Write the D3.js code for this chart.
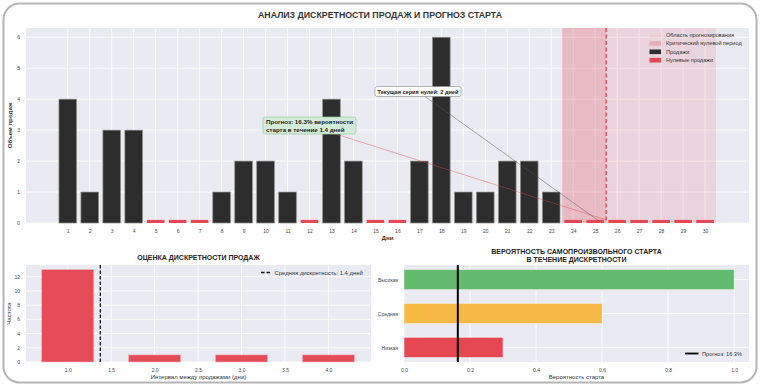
<!DOCTYPE html>
<html>
<head>
<meta charset="utf-8">
<script src="https://cdn.jsdelivr.net/npm/d3@7"></script>
<style>
  body { margin: 0; background: #fff; }
  svg { font-family: "Liberation Sans", Arial, sans-serif; }
  .tick text { fill: #444; }
</style>
</head>
<body>
<script>
// Sales discreteness dashboard
(function() {
  var W = 760, H = 386;

  // ---- data ----
  var days  = [1,2,3,4,5,6,7,8,9,10,11,12,13,14,15,16,17,18,19,20,21,22,23,24,25,26,27,28,29,30];
  var sales = [4,1,3,3,0,0,0,1,2,2,1,0,4,2,0,0,2,6,1,1,2,2,1,0,0,0,0,0,0,0];
  var yTicksMain = [0,1,2,3,4,5,6];
  var forecastStart = 23.5, forecastEnd = 30.5, criticalEnd = 25.5;
  var zeroStreak = 2;

  var intervals = [1, 2, 3, 4];
  var intervalFreq = [13, 1, 1, 1];
  var meanInterval = 1.375;
  var xTicksHist = [1.0, 1.5, 2.0, 2.5, 3.0, 3.5, 4.0];
  var yTicksHist = [0, 2, 4, 6, 8, 10, 12];

  var levels = ["Низкая", "Средняя", "Высокая"];
  var levelProb = [0.3, 0.6, 1.0];
  var levelColors = ["#e54753", "#f7b945", "#63bb6f"];
  var forecastProb = 0.163;
  var xTicksProb = [0, 0.2, 0.4, 0.6, 0.8, 1.0];

  var RED = "#e54753", DARK = "#2d2d2d", BG = "#eaeaf2";

  var svg = d3.select("body").append("svg").attr("width", W).attr("height", H);

  svg.append("rect")
     .attr("x", 3.5).attr("y", 3.5)
     .attr("width", W - 7).attr("height", H - 7)
     .attr("rx", 16)
     .attr("fill", "#fff")
     .attr("stroke", "#b5b5b5")
     .attr("stroke-width", 2);

  svg.append("text")
     .attr("x", 380).attr("y", 17.5)
     .attr("text-anchor", "middle")
     .attr("font-size", 9.6).attr("font-weight", "bold")
     .attr("textLength", 244).attr("lengthAdjust", "spacingAndGlyphs")
     .attr("fill", "#333")
     .text("АНАЛИЗ ДИСКРЕТНОСТИ ПРОДАЖ И ПРОГНОЗ СТАРТА");

  function panel(x0, x1, y0, y1) {
    svg.append("rect").attr("x", x0).attr("y", y0)
       .attr("width", x1 - x0).attr("height", y1 - y0).attr("fill", BG);
    return svg.append("g");
  }

  function styleAxis(g, size) {
    g.select(".domain").remove();
    g.selectAll("line").remove();
    g.selectAll("text").attr("font-size", size).attr("fill", "#444");
  }

  // ================= main chart =================
  var m = { l: 26, r: 749, t: 28, b: 223 };
  var x = d3.scaleLinear().domain([-0.9, 32]).range([m.l, m.r]);
  var y = d3.scaleLinear().domain([0, 6.3]).range([m.b, m.t]);
  var g = panel(m.l, m.r, m.t, m.b);

  g.selectAll(".vg").data(days).enter().append("line")
   .attr("x1", function(d) { return x(d); }).attr("x2", function(d) { return x(d); })
   .attr("y1", m.t).attr("y2", m.b).attr("stroke", "#fff").attr("stroke-width", 0.8);
  g.selectAll(".hg").data(yTicksMain).enter().append("line")
   .attr("x1", m.l).attr("x2", m.r)
   .attr("y1", function(d) { return y(d); }).attr("y2", function(d) { return y(d); })
   .attr("stroke", "#fff").attr("stroke-width", 0.8);

  // forecast zones
  g.append("rect").attr("x", x(forecastStart)).attr("y", m.t)
   .attr("width", x(forecastEnd) - x(forecastStart)).attr("height", m.b - m.t)
   .attr("fill", RED).attr("opacity", 0.13);
  g.append("rect").attr("x", x(forecastStart)).attr("y", m.t)
   .attr("width", x(criticalEnd) - x(forecastStart)).attr("height", m.b - m.t)
   .attr("fill", RED).attr("opacity", 0.18);

  var bw = x(0.8) - x(0);
  g.selectAll(".bar").data(days).enter().append("rect")
   .attr("x", function(d) { return x(d) - bw / 2; })
   .attr("width", bw)
   .attr("y", function(d, i) { return y(sales[i] > 0 ? sales[i] : 0.1); })
   .attr("height", function(d, i) { return y(0) - y(sales[i] > 0 ? sales[i] : 0.1); })
   .attr("fill", function(d, i) { return sales[i] > 0 ? DARK : RED; })
   .attr("stroke", function(d, i) { return sales[i] > 0 ? "#8a8a8a" : "none"; })
   .attr("stroke-width", 0.7);

  g.append("line").attr("x1", x(criticalEnd)).attr("x2", x(criticalEnd))
   .attr("y1", m.t).attr("y2", m.b)
   .attr("stroke", RED).attr("stroke-width", 1.4).attr("stroke-dasharray", "4,2.5");

  // annotations
  var a1 = [418, 91.5], a2 = [309, 125.5];
  g.append("line").attr("x1", a1[0]).attr("y1", a1[1])
   .attr("x2", x(25.2)).attr("y2", y(0.05))
   .attr("stroke", "#555").attr("stroke-width", 0.6).attr("opacity", 0.8);
  g.append("line").attr("x1", a2[0]).attr("y1", a2[1])
   .attr("x2", x(25.5)).attr("y2", y(0.1))
   .attr("stroke", RED).attr("stroke-width", 0.6).attr("opacity", 0.7);

  g.append("rect").attr("x", 375).attr("y", 86.5).attr("width", 86).attr("height", 10)
   .attr("rx", 2).attr("fill", "#fff").attr("stroke", "#888").attr("stroke-width", 0.6);
  g.append("text").attr("x", a1[0]).attr("y", 93.6).attr("text-anchor", "middle")
   .attr("font-size", 5.6).attr("font-weight", "bold").attr("fill", "#222")
   .text("Текущая серия нулей: " + zeroStreak + " дней");

  g.append("rect").attr("x", 263).attr("y", 117).attr("width", 93).attr("height", 17)
   .attr("rx", 2).attr("fill", "#d3ecd9").attr("stroke", "#93cba0").attr("stroke-width", 0.7);
  g.append("text").attr("x", 266).attr("y", 124).attr("font-size", 6.2)
   .attr("font-weight", "bold").attr("fill", "#222")
   .text("Прогноз: " + (forecastProb * 100).toFixed(1) + "% вероятности");
  g.append("text").attr("x", 266).attr("y", 131.5).attr("font-size", 6.2)
   .attr("font-weight", "bold").attr("fill", "#222")
   .text("старта в течение " + meanInterval.toFixed(1) + " дней");

  // legend
  var legItems = [
    { label: "Область прогнозирования", fill: "#ebcdd5" },
    { label: "Критический нулевой период", fill: "#e8adb8" },
    { label: "Продажи", fill: DARK },
    { label: "Нулевые продажи", fill: RED }
  ];
  var lg = g.append("g");
  legItems.forEach(function(it, i) {
    var yy = 35 + i * 8.4;
    lg.append("rect").attr("x", 649.5).attr("y", yy - 2.3).attr("width", 11.5).attr("height", 4.6)
      .attr("fill", it.fill);
    lg.append("text").attr("x", 666).attr("y", yy + 1.9).attr("font-size", 5.6)
      .attr("fill", "#333").text(it.label);
  });

  var gx = svg.append("g").attr("transform", "translate(0," + (m.b + 3) + ")")
    .call(d3.axisBottom(x).tickValues(days).tickFormat(d3.format("d")).tickSize(0));
  styleAxis(gx, 5);
  var gy = svg.append("g").attr("transform", "translate(" + (m.l - 3) + ",0)")
    .call(d3.axisLeft(y).tickValues(yTicksMain).tickFormat(d3.format("d")).tickSize(0));
  styleAxis(gy, 5);

  svg.append("text").attr("x", (m.l + m.r) / 2).attr("y", 239.5).attr("text-anchor", "middle")
     .attr("font-size", 6.2).attr("font-weight", "bold").attr("fill", "#333").text("Дни");
  svg.append("text").attr("transform", "translate(12," + ((m.t + m.b) / 2) + ") rotate(-90)")
     .attr("text-anchor", "middle").attr("font-size", 6.2).attr("font-weight", "bold")
     .attr("fill", "#333").text("Объем продаж");

  // ================= histogram =================
  var h = { l: 26, r: 371, t: 265, b: 362 };
  var hx = d3.scaleLinear().domain([0.52, 4.49]).range([h.l, h.r]);
  var hy = d3.scaleLinear().domain([0, 13.65]).range([h.b, h.t]);
  var hg = panel(h.l, h.r, h.t, h.b);

  hg.selectAll(".vg").data(xTicksHist).enter().append("line")
    .attr("x1", function(d) { return hx(d); }).attr("x2", function(d) { return hx(d); })
    .attr("y1", h.t).attr("y2", h.b).attr("stroke", "#fff").attr("stroke-width", 0.8);
  hg.selectAll(".hg").data(yTicksHist).enter().append("line")
    .attr("x1", h.l).attr("x2", h.r)
    .attr("y1", function(d) { return hy(d); }).attr("y2", function(d) { return hy(d); })
    .attr("stroke", "#fff").attr("stroke-width", 0.8);

  var hbw = hx(0.6) - hx(0);
  hg.selectAll(".bar").data(intervals).enter().append("rect")
    .attr("x", function(d) { return hx(d) - hbw / 2; })
    .attr("width", hbw)
    .attr("y", function(d, i) { return hy(intervalFreq[i]); })
    .attr("height", function(d, i) { return hy(0) - hy(intervalFreq[i]); })
    .attr("fill", RED).attr("opacity", 0.97)
    .attr("stroke", "#f2b5ba").attr("stroke-width", 0.6);

  hg.append("line").attr("x1", hx(meanInterval)).attr("x2", hx(meanInterval))
    .attr("y1", h.t).attr("y2", h.b)
    .attr("stroke", "#111").attr("stroke-width", 1.3).attr("stroke-dasharray", "3.5,2");

  hg.append("line").attr("x1", 261).attr("x2", 271.5).attr("y1", 272.5).attr("y2", 272.5)
    .attr("stroke", "#111").attr("stroke-width", 1.3).attr("stroke-dasharray", "3.5,2");
  hg.append("text").attr("x", 274.5).attr("y", 274.5).attr("font-size", 5.9).attr("fill", "#333")
    .text("Средняя дискретность: " + meanInterval.toFixed(1) + " дней");

  var hxa = svg.append("g").attr("transform", "translate(0," + (h.b + 3) + ")")
    .call(d3.axisBottom(hx).tickValues(xTicksHist).tickFormat(d3.format(".1f")).tickSize(0));
  styleAxis(hxa, 5);
  var hya = svg.append("g").attr("transform", "translate(" + (h.l - 3) + ",0)")
    .call(d3.axisLeft(hy).tickValues(yTicksHist).tickSize(0));
  styleAxis(hya, 5);

  svg.append("text").attr("x", (h.l + h.r) / 2).attr("y", 259.5).attr("text-anchor", "middle")
     .attr("font-size", 7).attr("font-weight", "bold").attr("fill", "#222")
     .text("ОЦЕНКА ДИСКРЕТНОСТИ ПРОДАЖ");
  svg.append("text").attr("x", (h.l + h.r) / 2).attr("y", 379).attr("text-anchor", "middle")
     .attr("font-size", 6).attr("fill", "#333").text("Интервал между продажами (дни)");
  svg.append("text").attr("transform", "translate(11," + ((h.t + h.b) / 2) + ") rotate(-90)")
     .attr("text-anchor", "middle").attr("font-size", 6).attr("fill", "#333").text("Частота");

  // ================= probability =================
  var p = { l: 404, r: 749, t: 265, b: 362 };
  var px = d3.scaleLinear().domain([0, 1.045]).range([p.l, p.r]);
  var py = d3.scaleLinear().domain([-0.43, 2.43]).range([p.b, p.t]);
  var pg = panel(p.l, p.r, p.t, p.b);

  pg.selectAll(".vg").data(xTicksProb).enter().append("line")
    .attr("x1", function(d) { return px(d); }).attr("x2", function(d) { return px(d); })
    .attr("y1", p.t).attr("y2", p.b).attr("stroke", "#fff").attr("stroke-width", 0.8);
  pg.selectAll(".hg").data(levels).enter().append("line")
    .attr("x1", p.l).attr("x2", p.r)
    .attr("y1", function(d, i) { return py(i); }).attr("y2", function(d, i) { return py(i); })
    .attr("stroke", "#fff").attr("stroke-width", 0.8);

  var pbh = py(0) - py(0.6);
  pg.selectAll(".bar").data(levels).enter().append("rect")
    .attr("x", px(0))
    .attr("y", function(d, i) { return py(i) - pbh / 2; })
    .attr("height", pbh)
    .attr("width", function(d, i) { return px(levelProb[i]) - px(0); })
    .attr("fill", function(d, i) { return levelColors[i]; })
    .attr("stroke", "#f4f4f4").attr("stroke-width", 0.6);

  pg.append("line").attr("x1", px(forecastProb)).attr("x2", px(forecastProb))
    .attr("y1", p.t).attr("y2", p.b).attr("stroke", "#000").attr("stroke-width", 2);

  pg.append("line").attr("x1", 685).attr("x2", 698.5).attr("y1", 353.5).attr("y2", 353.5)
    .attr("stroke", "#000").attr("stroke-width", 1.8);
  pg.append("text").attr("x", 702).attr("y", 355.5).attr("font-size", 5.6).attr("fill", "#333")
    .text("Прогноз: " + (forecastProb * 100).toFixed(1) + "%");

  var pxa = svg.append("g").attr("transform", "translate(0," + (p.b + 3) + ")")
    .call(d3.axisBottom(px).tickValues(xTicksProb).tickFormat(d3.format(".1f")).tickSize(0));
  styleAxis(pxa, 5);
  var pya = svg.append("g").attr("transform", "translate(" + (p.l - 3) + ",0)")
    .call(d3.axisLeft(py).tickValues([0, 1, 2]).tickFormat(function(d) { return levels[d]; }).tickSize(0));
  styleAxis(pya, 5);

  svg.append("text").attr("x", (p.l + p.r) / 2).attr("y", 253.5).attr("text-anchor", "middle")
     .attr("font-size", 7).attr("font-weight", "bold").attr("fill", "#222")
     .text("ВЕРОЯТНОСТЬ САМОПРОИЗВОЛЬНОГО СТАРТА");
  svg.append("text").attr("x", (p.l + p.r) / 2).attr("y", 261.5).attr("text-anchor", "middle")
     .attr("font-size", 7).attr("font-weight", "bold").attr("fill", "#222")
     .text("В ТЕЧЕНИЕ ДИСКРЕТНОСТИ");
  svg.append("text").attr("x", (p.l + p.r) / 2).attr("y", 379).attr("text-anchor", "middle")
     .attr("font-size", 6).attr("fill", "#333").text("Вероятность старта");
})();
</script>
</body>
</html>
